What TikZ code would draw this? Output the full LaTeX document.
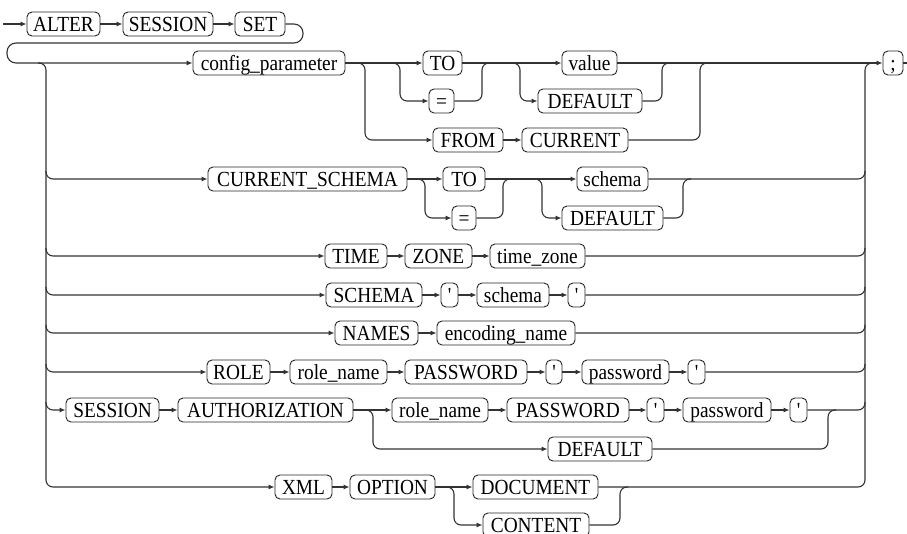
\documentclass[tikz,border=0pt]{standalone}
\usepackage{fontspec}
\newfontfamily\kwfont{Liberation Serif}[FakeStretch=0.9]
\usetikzlibrary{arrows.meta}
\tikzset{
  kw/.style={draw=black!85, rounded corners=5pt, minimum height=24pt, inner xsep=0pt, inner ysep=0pt,
    text height=14.5pt, text depth=0pt, line width=0.9pt,
    font=\kwfont\fontsize{21.5pt}{24pt}\selectfont},
  ln/.style={draw=black!80, line width=1.1pt, rounded corners=7pt},
  arr/.style={ln, -{Latex[length=6pt,width=5pt]}}
}
\begin{document}
\begin{tikzpicture}[x=1pt,y=-1pt]
\useasboundingbox[fill=white] (0,0) rectangle (907,534);
% row 0
\coordinate (start) at (3,24);
\node[kw, minimum width=73pt] (alter) at (63.5,24) {ALTER};
\node[kw, minimum width=90pt] (sess0) at (168,24) {SESSION};
\node[kw, minimum width=50pt] (set) at (260,24) {SET};
% row 1
\node[kw, minimum width=152pt] (cfg) at (269,63) {config\_parameter};
\node[kw, minimum width=39pt] (to1) at (442.5,63) {TO};
\node[kw, minimum width=25pt] (eq1) at (441.5,101) {=};
\node[kw, minimum width=55pt] (val) at (589.5,63) {value};
\node[kw, minimum width=104pt] (def1) at (590,101) {DEFAULT};
\node[kw, minimum width=70pt] (from) at (468,140) {FROM};
\node[kw, minimum width=106pt] (cur) at (575,140) {CURRENT};
\node[kw, minimum width=20pt] (semi) at (893,63) {;};
\coordinate (endp) at (907,63);
% row 2
\node[kw, minimum width=199pt] (cs) at (307.5,179) {CURRENT\_SCHEMA};
\node[kw, minimum width=42pt] (to2) at (464,179) {TO};
\node[kw, minimum width=24pt] (eq2) at (464,218) {=};
\node[kw, minimum width=71pt] (sch2) at (612.5,179) {schema};
\node[kw, minimum width=101pt] (def2) at (612.5,218) {DEFAULT};
% row 3
\node[kw, minimum width=62pt] (time) at (356,256) {TIME};
\node[kw, minimum width=67pt] (zone) at (438.5,256) {ZONE};
\node[kw, minimum width=95pt] (tz) at (537.5,256) {time\_zone};
% row 4
\node[kw, minimum width=96pt] (sch4) at (374,295) {SCHEMA};
\node[kw, minimum width=17pt] (q4a) at (449.5,295) {'};
\node[kw, minimum width=72pt] (schv4) at (513,295) {schema};
\node[kw, minimum width=17pt] (q4b) at (576.5,295) {'};
% row 5
\node[kw, minimum width=83pt] (names) at (376.5,333) {NAMES};
\node[kw, minimum width=138pt] (enc) at (506,333) {encoding\_name};
% row 6
\node[kw, minimum width=63pt] (role) at (238.5,372) {ROLE};
\node[kw, minimum width=97pt] (rn6) at (338.5,372) {role\_name};
\node[kw, minimum width=122pt] (pw6) at (466,372) {PASSWORD};
\node[kw, minimum width=16pt] (q6a) at (554,372) {'};
\node[kw, minimum width=87pt] (pv6) at (625.5,372) {password};
\node[kw, minimum width=17pt] (q6b) at (696.5,372) {'};
% row 7
\node[kw, minimum width=93pt] (sess7) at (112.5,410) {SESSION};
\node[kw, minimum width=175pt] (auth) at (265.5,410) {AUTHORIZATION};
\node[kw, minimum width=96pt] (rn7) at (440,410) {role\_name};
\node[kw, minimum width=122pt] (pw7) at (568,410) {PASSWORD};
\node[kw, minimum width=17pt] (q7a) at (655.5,410) {'};
\node[kw, minimum width=88pt] (pv7) at (727,410) {password};
\node[kw, minimum width=17pt] (q7b) at (798.5,410) {'};
\node[kw, minimum width=104pt] (def7) at (600,449) {DEFAULT};
% row 8
\node[kw, minimum width=57pt] (xml) at (303.5,487) {XML};
\node[kw, minimum width=85pt] (opt) at (392.5,487) {OPTION};
\node[kw, minimum width=125pt] (doc) at (535.5,487) {DOCUMENT};
\node[kw, minimum width=106pt] (cont) at (536,525) {CONTENT};

% connectors row 0
\draw[arr] (start) -- (alter.west);
\draw[arr] (alter.east) -- (sess0.west);
\draw[arr] (sess0.east) -- (set.west);
\draw[arr, rounded corners=9pt] (set.east) -- (303,24) -- (303,43) -- (7,43) -- (7,63) -- (cfg.west);
% left collector
\draw[arr] (38,63) -- (46,63) |- (xml.west);
\draw[arr] (46,171) |- (cs.west);
\draw[arr] (46,248) |- (time.west);
\draw[arr] (46,287) |- (sch4.west);
\draw[arr] (46,325) |- (names.west);
\draw[arr] (46,364) |- (role.west);
\draw[arr] (46,402) |- (sess7.west);
% right collector
\draw[ln] (doc.east) -- (865,487) -- (865,63) -- (873,63);
\draw[ln] (sch2.east) -| (865,171);
\draw[ln] (tz.east) -| (865,248);
\draw[ln] (q4b.east) -| (865,287);
\draw[ln] (enc.east) -| (865,325);
\draw[ln] (q6b.east) -| (865,364);
\draw[ln] (q7b.east) -| (865,402);
% row 1
\draw[arr] (cfg.east) -- (to1.west);
\draw[arr] (392,63) -- (400,63) |- (eq1.west);
\draw[ln] (eq1.east) -| (482,63) -- (490,63);
\draw[arr] (to1.east) -- (val.west);
\draw[arr] (512,63) -- (520,63) |- (def1.west);
\draw[ln] (def1.east) -| (662,63) -- (670,63);
\draw[arr] (357,63) -- (365,63) |- (from.west);
\draw[arr] (from.east) -- (cur.west);
\draw[ln] (cur.east) -| (700,63) -- (708,63);
\draw[arr] (val.east) -- (semi.west);
\draw[ln] (semi.east) -- (endp);
% row 2
\draw[arr] (cs.east) -- (to2.west);
\draw[arr] (417,179) -- (425,179) |- (eq2.west);
\draw[ln] (eq2.east) -| (503,179) -- (511,179);
\draw[arr] (to2.east) -- (sch2.west);
\draw[arr] (534,179) -- (542,179) |- (def2.west);
\draw[ln] (def2.east) -| (683,179) -- (691,179);
% row 3
\draw[arr] (time.east) -- (zone.west);
\draw[arr] (zone.east) -- (tz.west);
% row 4
\draw[arr] (sch4.east) -- (q4a.west);
\draw[arr] (q4a.east) -- (schv4.west);
\draw[arr] (schv4.east) -- (q4b.west);
% row 5
\draw[arr] (names.east) -- (enc.west);
% row 6
\draw[arr] (role.east) -- (rn6.west);
\draw[arr] (rn6.east) -- (pw6.west);
\draw[arr] (pw6.east) -- (q6a.west);
\draw[arr] (q6a.east) -- (pv6.west);
\draw[arr] (pv6.east) -- (q6b.west);
% row 7
\draw[arr] (sess7.east) -- (auth.west);
\draw[arr] (auth.east) -- (rn7.west);
\draw[arr] (365,410) -- (373,410) |- (def7.west);
\draw[arr] (rn7.east) -- (pw7.west);
\draw[arr] (pw7.east) -- (q7a.west);
\draw[arr] (q7a.east) -- (pv7.west);
\draw[arr] (pv7.east) -- (q7b.west);
\draw[ln] (def7.east) -| (828,410) -- (836,410);
% row 8
\draw[arr] (xml.east) -- (opt.west);
\draw[arr] (opt.east) -- (doc.west);
\draw[arr] (446,487) -- (454,487) |- (cont.west);
\draw[ln] (cont.east) -| (620,487) -- (628,487);
\end{tikzpicture}
\end{document}
